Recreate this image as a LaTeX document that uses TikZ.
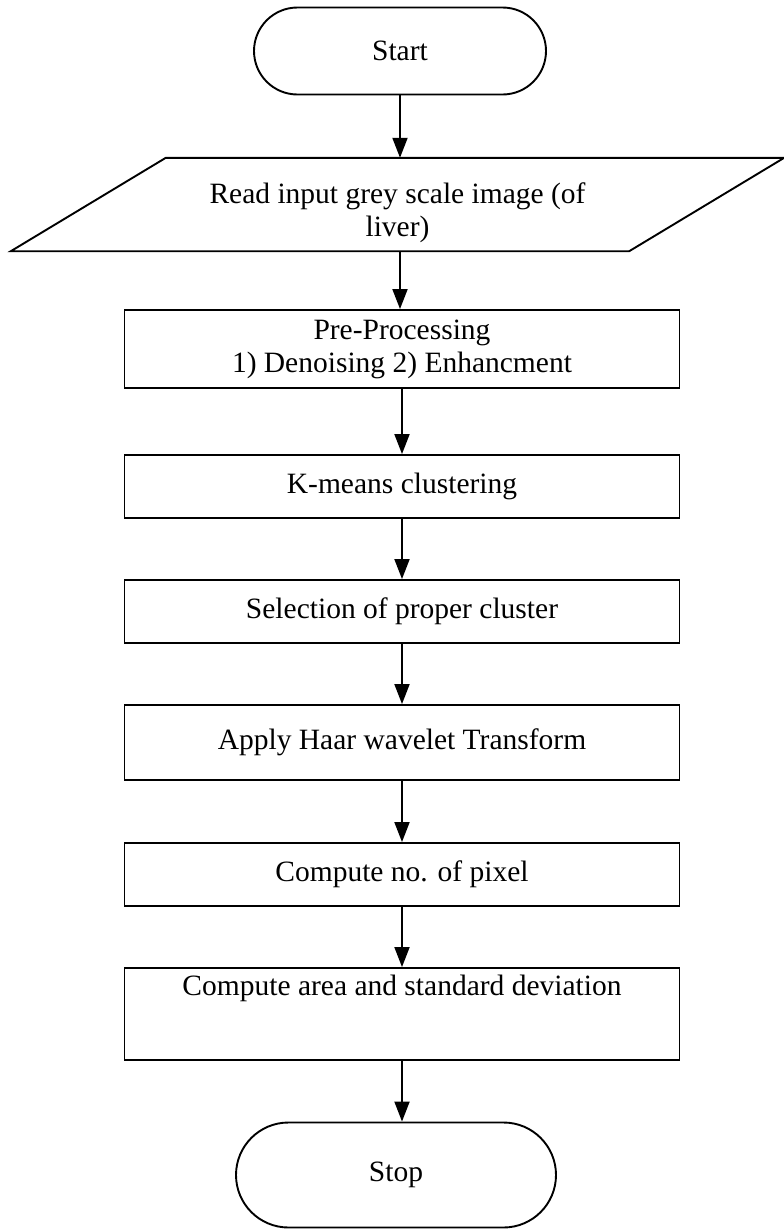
\documentclass[tikz,border=0pt]{standalone}
\usepackage{fontspec}
\setmainfont{Liberation Serif}
\usetikzlibrary{arrows.meta,positioning,shapes.misc}
\tikzset{
  procbox/.style={draw, line width=1.9pt, minimum width=555pt, minimum height=63pt, align=center, inner sep=0pt},
  termbox/.style={draw, line width=1.9pt, rounded rectangle, align=center, inner sep=0pt},
  flow/.style={-{Triangle[length=20pt,width=15pt]}, line width=1.9pt}
}
\begin{document}
\begin{tikzpicture}[x=1pt,y=1pt,font=\fontsize{29.5}{33}\selectfont]
\useasboundingbox (0,0) rectangle (784,-1232);
%terminals
\node[termbox,minimum width=292pt,minimum height=87pt] (start) at (400,-51) {Start};
\node[termbox,minimum width=320pt,minimum height=105pt] (stop) at (396,-1175) {Stop};
%input
\node[minimum width=618pt,minimum height=93pt,inner sep=0pt] (read) at (397.5,-204.5) {};
\draw[line width=1.9pt] ([xshift=77.5pt]read.north west)--([xshift=77.5pt]read.north east)
  --([xshift=-77.5pt]read.south east)--([xshift=-77.5pt]read.south west)--cycle;
\node[align=center,yshift=-8pt] (readtext) at (read) {Read input grey scale image (of\\liver)};
%process
\node[procbox,minimum height=78pt] (pre) at (402,-349) {Pre-Processing\\1) Denoising 2) Enhancment};
\node[procbox] (kmeans) at (402,-486.5) {K-means clustering};
\node[procbox] (sel) at (402,-611.5) {Selection of proper cluster};
\node[procbox,minimum height=75pt] (haar) at (402,-742.5) {Apply Haar wavelet Transform};
\node[procbox] (pix) at (402,-874.5) {Compute no. of pixel};
\node[procbox,minimum height=92pt] (area) at (402,-1014) {Compute area and standard deviation\\[24pt]\mbox{}};
%arrows
\draw[flow] (start.south)--(start.south |- read.north);
\draw[flow] (start.south |- read.south)--(start.south |- pre.north);
\draw[flow] (pre)--(kmeans);
\draw[flow] (kmeans)--(sel);
\draw[flow] (sel)--(haar);
\draw[flow] (haar)--(pix);
\draw[flow] (pix)--(area);
\draw[flow] (area.south)--(area.south |- stop.north);
\end{tikzpicture}
\end{document}
